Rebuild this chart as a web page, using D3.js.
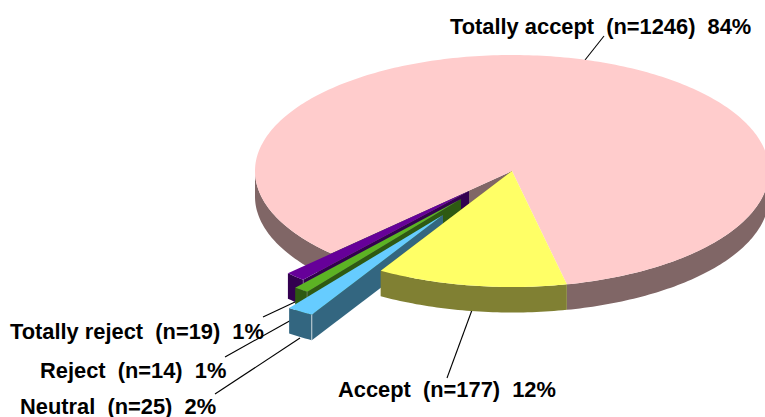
<!DOCTYPE html>
<html><head><meta charset="utf-8">
<script src="https://cdn.jsdelivr.net/npm/d3@7"></script>
<style>html,body{margin:0;padding:0;background:#fff}svg{display:block}
text{font-family:"Liberation Sans",Arial,sans-serif;font-weight:bold;font-size:21.85px;fill:#000;white-space:pre}</style>
</head><body><svg id="c" width="765" height="417"></svg>
<script>
const categories = ["Totally accept","Accept","Neutral","Reject","Totally reject"];
const counts = [1246,177,25,14,19];
const percents = [84,12,2,1,1];

const topColors = ["#FFCCCC","#FFFF66","#66CCFF","#5CB324","#660099"];
const wallColors = ["#806666","#808033","#336680","#2E5A12","#330050"];
const explode = [[0,0],[0,0],[-69,44],[-51,28],[-43,20]];
const labelPos = [[450,34],[338,397],[20,414],[40,378],[10,339]];
const leaders = [[[585,60],[604,36]],[[472,310],[447,378]],[[300,338],[215,394]],[[302,314],[225,357]],[[295,302],[263,317]]];

const cx=512, cy=171, rx=257, ry=116, depth=25.5, startDeg=-135.2;
const svg=d3.select("#c");
const rad=d=>d*Math.PI/180;
const arcs=d3.pie().sort(null).startAngle(rad(startDeg)).endAngle(rad(startDeg+360))(counts);
const line=d3.line();
const pt=(a,ox,oy,dz=0)=>[cx+ox+rx*Math.sin(a), cy+oy-ry*Math.cos(a)+dz];
const sample=(a0,a1)=>{const n=Math.max(2,Math.ceil(Math.abs(a1-a0)/rad(1)));return d3.range(n+1).map(i=>a0+(a1-a0)*i/n);};

function drawWall(a0,a1,o,color){
  const upper=sample(a0,a1).map(a=>pt(a,o[0],o[1]));
  const lower=sample(a1,a0).map(a=>pt(a,o[0],o[1],depth));
  svg.append("path").attr("d",line(upper.concat(lower))+"Z").attr("fill",color);
}
function drawCut(a,o,color){
  const c=[cx+o[0],cy+o[1]], e=pt(a,o[0],o[1]);
  svg.append("path").attr("d",line([c,e,[e[0],e[1]+depth],[c[0],c[1]+depth]])+"Z").attr("fill",color);
}
function drawTop(s,o,color){
  const pts=[[cx+o[0],cy+o[1]]].concat(sample(s.startAngle,s.endAngle).map(a=>pt(a,o[0],o[1])));
  svg.append("path").attr("d",line(pts)+"Z").attr("fill",color);
}

leaders.forEach(l=>svg.append("path").attr("d",line(l)).attr("stroke","#000").attr("stroke-width",1.1).attr("fill","none"));

const p=arcs[0], o0=explode[0];
drawCut(p.startAngle,o0,wallColors[0]);
drawWall(rad(90),p.endAngle,o0,wallColors[0]);
drawWall(p.startAngle+2*Math.PI,rad(270),o0,wallColors[0]);
drawTop(p,o0,topColors[0]);

[4,3,2].forEach(i=>{
  const s=arcs[i], o=explode[i];
  drawCut(s.startAngle,o,wallColors[i]);
  drawWall(s.startAngle,s.endAngle,o,wallColors[i]);
  drawTop(s,o,topColors[i]);
  const e=pt(s.startAngle,o[0],o[1]);
  svg.append("path").attr("d",line([e,[e[0],e[1]+depth]])).attr("stroke","#fff").attr("stroke-opacity",i===2?0.85:0.35).attr("stroke-width",0.8);
});

const y=arcs[1];
drawCut(y.endAngle,explode[1],wallColors[1]);
drawWall(y.startAngle,y.endAngle,explode[1],wallColors[1]);
drawTop(y,explode[1],topColors[1]);

categories.forEach((c,i)=>{
  svg.append("text").attr("x",labelPos[i][0]).attr("y",labelPos[i][1])
    .text(`${c}  (n=${counts[i]})  ${percents[i]}%`);
});
</script></body></html>
